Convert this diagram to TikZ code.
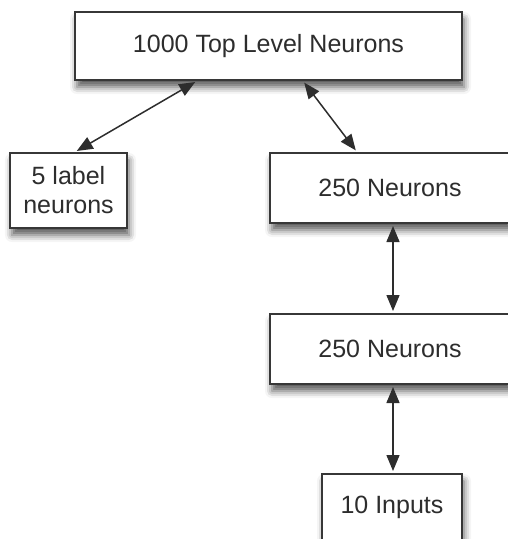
\documentclass[tikz,border=0pt]{standalone}
\usepackage{fontspec}
\setmainfont{Liberation Sans}
\usepackage{xcolor}
\definecolor{ink}{RGB}{45,45,45}
\definecolor{edge}{RGB}{55,55,55}
\usepackage{tikz}
\usetikzlibrary{arrows.meta,positioning,shadows.blur}
\tikzset{
  box/.style={draw=edge,line width=2pt,fill=white,text=ink,align=center,%
    font=\fontsize{25}{29}\selectfont,inner sep=2pt,%
    blur shadow={shadow xshift=2pt,shadow yshift=-7pt,shadow blur radius=7pt,shadow opacity=65}},
  link/.style={{Triangle[length=16pt,width=13pt]}-{Triangle[length=16pt,width=13pt]},%
    line width=1.5pt,draw=ink,shorten <=2pt,shorten >=2pt},
}

\begin{document}
\begin{tikzpicture}[x=1pt,y=1pt]
\useasboundingbox (0,0) rectangle (507,-539);
\node[box,minimum width=387pt,minimum height=68pt] (top) at (268.5,-46) {1000 Top Level Neurons};
\node[box,minimum width=117pt,minimum height=75pt] (lbl) at (68.5,-190.5) {5 label\\neurons};
\node[box,minimum width=240pt,minimum height=70pt] (hidA) at (390,-188) {250 Neurons};
\node[box,minimum width=240pt,minimum height=70pt,below=89pt of hidA] (hidB) {250 Neurons};
\node[box,minimum width=140pt,minimum height=67pt,below=88pt of hidB,xshift=2pt] (inp) {10 Inputs};
\draw[link] ([xshift=6.5pt]lbl.north) -- ([xshift=-71.5pt]top.south);
\draw[link] ([xshift=34.5pt]top.south) -- ([xshift=-33pt]hidA.north);
\draw[link] ([xshift=3pt]hidA.south) -- ([xshift=3pt]hidB.north);
\draw[link] ([xshift=3pt]hidB.south) -- ([xshift=1pt]inp.north);
\end{tikzpicture}
\end{document}
